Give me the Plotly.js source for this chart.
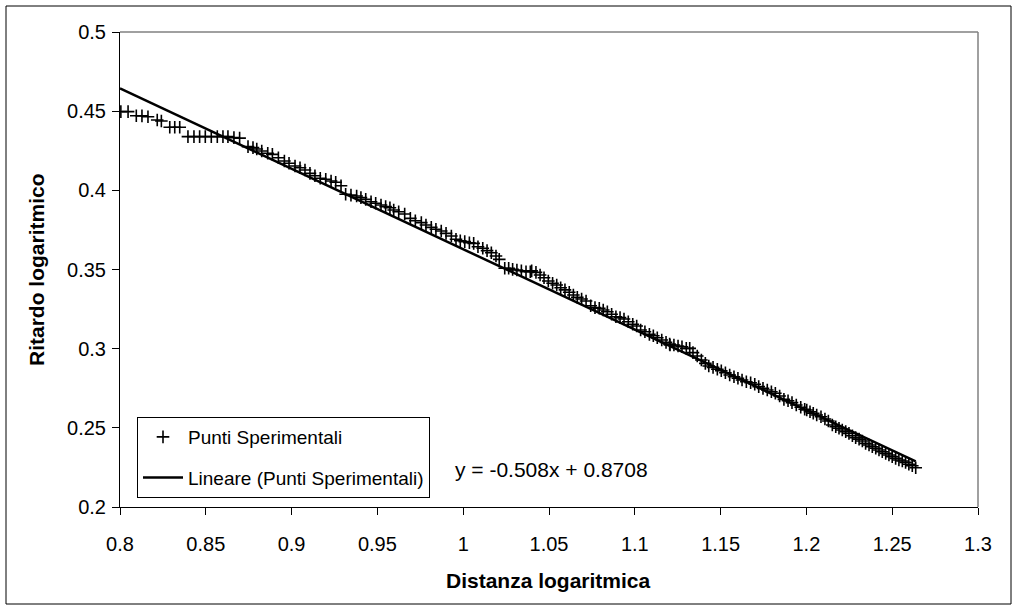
<!DOCTYPE html>
<html>
<head>
<meta charset="utf-8">
<script src="https://cdn.plot.ly/plotly-3.0.1.min.js"></script>
<style>
  html, body { margin: 0; padding: 0; background: #ffffff; }
  #chart { width: 1017px; height: 605px; }
</style>
</head>
<body>
<div id="chart"></div>
<script>
// Distanza logaritmica (x) — experimental points
const distanza = [
  0.8005, 0.8047, 0.8095, 0.8128, 0.8163, 0.8217, 0.8241, 0.8290, 0.8319, 0.8348,
  0.8396, 0.8431, 0.8464, 0.8497, 0.8532, 0.8567, 0.8600, 0.8629, 0.8664, 0.8697,
  0.8746, 0.8775,
  0.8797, 0.8826, 0.8861, 0.8888, 0.8923, 0.8958, 0.8985, 0.9020, 0.9049, 0.9078,
  0.9107, 0.9136, 0.9167, 0.9199, 0.9230, 0.9257, 0.9288, 0.9315, 0.9346, 0.9379,
  0.9404, 0.9432, 0.9463, 0.9490, 0.9521, 0.9548, 0.9573,
  0.9595, 0.9624, 0.9659, 0.9692, 0.9721, 0.9756, 0.9783, 0.9814, 0.9841, 0.9872,
  0.9900, 0.9931, 0.9958, 0.9983, 1.0009, 1.0036, 1.0061, 1.0086, 1.0114, 1.0139,
  1.0164, 1.0191, 1.0210, 1.0242, 1.0265, 1.0288, 1.0313, 1.0339, 1.0366, 1.0391,
  1.0399, 1.0424, 1.0448, 1.0471, 1.0496, 1.0521, 1.0545, 1.0568, 1.0593, 1.0618,
  1.0642, 1.0665, 1.0690, 1.0716, 1.0743, 1.0768, 1.0793, 1.0816, 1.0840, 1.0865,
  1.0890, 1.0914, 1.0937, 1.0962, 1.0988, 1.1011, 1.1034, 1.1059, 1.1085, 1.1108,
  1.1131, 1.1157, 1.1182, 1.1205,
  1.1203, 1.1228, 1.1252, 1.1275, 1.1300, 1.1320, 1.1339, 1.1364, 1.1388, 1.1411,
  1.1431, 1.1456, 1.1481, 1.1504, 1.1528, 1.1553, 1.1578, 1.1601, 1.1625, 1.1650,
  1.1675, 1.1699, 1.1722, 1.1747, 1.1772, 1.1796, 1.1819, 1.1844, 1.1869, 1.1893,
  1.1916, 1.1941, 1.1967, 1.1990,
  1.2002, 1.2021, 1.2040, 1.2060, 1.2085, 1.2108, 1.2128, 1.2151, 1.2171, 1.2190,
  1.2209, 1.2229, 1.2248, 1.2268, 1.2287, 1.2307, 1.2326, 1.2345, 1.2365, 1.2384,
  1.2404, 1.2423, 1.2442, 1.2462, 1.2481, 1.2500, 1.2520, 1.2539, 1.2559, 1.2578,
  1.2597, 1.2617, 1.2637
];

// Ritardo logaritmico (y) — experimental points
const ritardo = [
  0.4497, 0.4497, 0.4471, 0.4470, 0.4465, 0.4444, 0.4438, 0.4398, 0.4398, 0.4398,
  0.4339, 0.4339, 0.4339, 0.4339, 0.4339, 0.4339, 0.4339, 0.4339, 0.4333, 0.4330,
  0.4276, 0.4270,
  0.4261, 0.4248, 0.4234, 0.4227, 0.4206, 0.4185, 0.4171, 0.4154, 0.4143, 0.4128,
  0.4107, 0.4092, 0.4076, 0.4070, 0.4059, 0.4051, 0.4029, 0.3975, 0.3970, 0.3964,
  0.3954, 0.3943, 0.3928, 0.3918, 0.3907, 0.3897, 0.3890,
  0.3876, 0.3865, 0.3851, 0.3823, 0.3808, 0.3796, 0.3781, 0.3766, 0.3754, 0.3743,
  0.3728, 0.3712, 0.3691, 0.3682, 0.3676, 0.3669, 0.3665, 0.3644, 0.3634, 0.3619,
  0.3606, 0.3585, 0.3564, 0.3508, 0.3508, 0.3501, 0.3497, 0.3492, 0.3486, 0.3486,
  0.3491, 0.3482, 0.3465, 0.3448, 0.3427, 0.3413, 0.3402, 0.3385, 0.3371, 0.3356,
  0.3339, 0.3324, 0.3314, 0.3301, 0.3271, 0.3259, 0.3255, 0.3244, 0.3233, 0.3217,
  0.3202, 0.3196, 0.3187, 0.3170, 0.3154, 0.3143, 0.3118, 0.3107, 0.3090, 0.3082,
  0.3069, 0.3055, 0.3040, 0.3023,
  0.3029, 0.3023, 0.3017, 0.3012, 0.3002, 0.3002, 0.2975, 0.2954, 0.2928, 0.2907,
  0.2891, 0.2882, 0.2870, 0.2861, 0.2848, 0.2834, 0.2823, 0.2813, 0.2802, 0.2791,
  0.2785, 0.2775, 0.2760, 0.2749, 0.2739, 0.2728, 0.2718, 0.2701, 0.2680, 0.2671,
  0.2659, 0.2644, 0.2630, 0.2617,
  0.2613, 0.2602, 0.2592, 0.2581, 0.2570, 0.2556, 0.2543, 0.2518, 0.2507, 0.2497,
  0.2486, 0.2476, 0.2465, 0.2450, 0.2438, 0.2429, 0.2417, 0.2402, 0.2392, 0.2381,
  0.2371, 0.2360, 0.2349, 0.2339, 0.2328, 0.2318, 0.2307, 0.2297, 0.2291, 0.2282,
  0.2270, 0.2261, 0.2248
];

// Linear trendline as printed on the chart
const trendSlope = -0.508;
const trendIntercept = 0.8708;
const trendX = [0.8, Math.max(...distanza)];
const trendY = trendX.map(v => trendSlope * v + trendIntercept);

// Series / labels
const seriesNames = ["Punti Sperimentali", "Lineare (Punti Sperimentali)"];
const equationText = "y = -0.508x + 0.8708";
const xTitle = "Distanza logaritmica";
const yTitle = "Ritardo logaritmico";
const xTickVals = [0.8, 0.85, 0.9, 0.95, 1, 1.05, 1.1, 1.15, 1.2, 1.25, 1.3];
const xTickText = ["0.8", "0.85", "0.9", "0.95", "1", "1.05", "1.1", "1.15", "1.2", "1.25", "1.3"];
const yTickVals = [0.2, 0.25, 0.3, 0.35, 0.4, 0.45, 0.5];
const yTickText = ["0.2", "0.25", "0.3", "0.35", "0.4", "0.45", "0.5"];

const FONT = "Liberation Sans, Arial, sans-serif";

const traces = [
  {
    x: distanza, y: ritardo,
    type: "scatter", mode: "markers",
    name: seriesNames[0],
    legendgroup: "a",
    marker: { symbol: "cross-thin", size: 9, color: "#000000",
              line: { width: 1.6, color: "#000000" } },
    hoverinfo: "x+y"
  },
  {
    x: trendX, y: trendY,
    type: "scatter", mode: "lines",
    name: seriesNames[1],
    legendgroup: "b",
    line: { color: "#000000", width: 2.5 },
    hoverinfo: "x+y"
  }
];

const plotL = 120, plotR = 978, plotT = 32, plotB = 507;
const W = 1017, H = 605;
const pw = plotR - plotL, ph = plotB - plotT;
const px = v => (v - plotL) / pw;
const py = v => (plotB - v) / ph;

const layout = {
  width: W, height: H,
  margin: { l: plotL, r: W - plotR, t: plotT, b: H - plotB, pad: 0 },
  paper_bgcolor: "#ffffff",
  plot_bgcolor: "#ffffff",
  font: { family: FONT, size: 20, color: "#000000" },
  showlegend: true,
  legend: {
    x: px(137), y: py(417), xanchor: "left", yanchor: "top",
    bgcolor: "#ffffff", bordercolor: "#000000", borderwidth: 1,
    font: { family: FONT, size: 19, color: "#000000" },
    tracegroupgap: 13,
    itemwidth: 40
  },
  xaxis: {
    range: [0.8, 1.3], tickmode: "array", tickvals: xTickVals, ticktext: xTickText,
    showgrid: false, zeroline: false,
    showline: true, linecolor: "#000000", linewidth: 1,
    ticks: "outside", ticklen: 7, tickwidth: 1, tickcolor: "#000000",
    tickfont: { family: FONT, size: 20, color: "#000000" },
    ticklabelstandoff: 12,
    fixedrange: true
  },
  yaxis: {
    range: [0.2, 0.5], tickmode: "array", tickvals: yTickVals, ticktext: yTickText,
    showgrid: false, zeroline: false,
    showline: true, linecolor: "#000000", linewidth: 1,
    ticks: "outside", ticklen: 7, tickwidth: 1, tickcolor: "#000000",
    tickfont: { family: FONT, size: 20, color: "#000000" },
    ticklabelstandoff: 2,
    fixedrange: true
  },
  shapes: [
    // gray top and right plot-area edges
    { type: "line", xref: "paper", yref: "paper", x0: 0, x1: 1, y0: 1, y1: 1,
      line: { color: "#808080", width: 1.5 } },
    { type: "line", xref: "paper", yref: "paper", x0: 1, x1: 1, y0: 0, y1: 1,
      line: { color: "#808080", width: 1.5 } },
    // outer chart border
    { type: "rect", xref: "paper", yref: "paper",
      x0: px(6), x1: px(1011), y0: py(604), y1: py(6),
      line: { color: "#000000", width: 1 }, fillcolor: "rgba(0,0,0,0)" }
  ],
  annotations: [
    { text: equationText, xref: "paper", yref: "paper",
      x: px(453), y: py(469), xanchor: "left", yanchor: "middle",
      showarrow: false, font: { family: FONT, size: 21, color: "#000000" } },
    { text: "<b>" + xTitle + "</b>", xref: "paper", yref: "paper",
      x: px(548), y: py(580), xanchor: "center", yanchor: "middle",
      showarrow: false, font: { family: FONT, size: 21, color: "#000000" } },
    { text: "<b>" + yTitle + "</b>", xref: "paper", yref: "paper",
      x: px(36), y: py(270), xanchor: "center", yanchor: "middle", textangle: -90,
      showarrow: false, font: { family: FONT, size: 21, color: "#000000" } }
  ]
};

Plotly.newPlot("chart", traces, layout, { displayModeBar: false, staticPlot: true });
</script>
</body>
</html>
